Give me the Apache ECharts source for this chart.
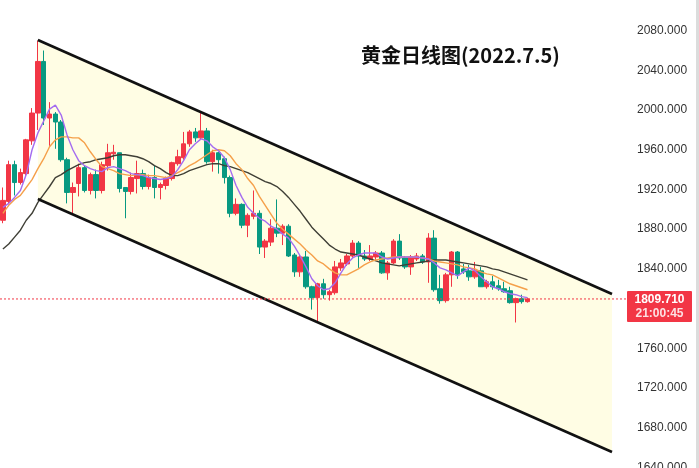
<!DOCTYPE html>
<html><head><meta charset="utf-8">
<script src="https://cdn.jsdelivr.net/npm/echarts@6/dist/echarts.min.js"></script>
<style>html,body{margin:0;padding:0;background:#fff}#c{width:699px;height:468px}</style>
</head><body><div id="c"></div>
<script>
const titleText = '黄金日线图(2022.7.5)';
const slotCount = 105; // 91 daily candles + empty space to the right
const opens  = [1889,1908,1945,1927,1936,1969,1997,2049,1992,1996,1988,1950,1917,1926,1942,1919,1935,1919,1944,1956,1957,1922,1918,1931,1936,1923,1932,1922,1924,1931,1946,1952,1966,1978,1972,1979,1948,1957,1951,1932,1896,1905,1884,1893,1896,1862,1867,1881,1876,1883,1854,1837,1852,1822,1811,1825,1814,1816,1841,1845,1853,1866,1853,1850,1852,1856,1836,1846,1868,1851,1842,1850,1853,1847,1871,1820,1808,1834,1857,1840,1838,1832,1838,1822,1827,1823,1820,1818,1806,1810,1807];
const closes = [1909,1945,1927,1937,1970,1997,2049,1992,1996,1988,1950,1917,1922,1942,1919,1935,1919,1945,1957,1957.5,1921,1918,1932,1936,1923,1932,1922,1925,1931,1947,1953,1966,1978,1972,1979,1948,1957,1950,1932,1896,1905,1884,1894,1896,1862,1868,1881,1876,1883,1853,1837,1852,1822,1811,1825,1814,1817,1842,1846,1853,1866,1853,1850,1853,1856,1836,1846,1868,1851,1842,1852,1853,1847,1871,1819,1808,1834,1857,1834,1837,1832,1838,1822,1827,1822,1820,1817,1806,1810,1807,1809.71];
const lows   = [1886,1905,1914,1925,1933,1965,1980,1985,1964,1961,1948,1906,1896,1913,1917,1915,1911,1916,1939,1950,1917,1891,1915,1916,1920,1920,1911,1910,1920,1929,1944,1950,1963,1968,1970,1946,1938,1936,1926,1892,1894,1881,1872,1890,1855,1851,1863,1872,1864,1852,1832,1832,1820,1799,1787,1810,1808,1814,1838,1843,1851,1841,1848,1848,1849,1835,1829,1845,1849,1840,1834,1848,1845,1826,1817,1805,1806,1822,1830,1835,1828,1830,1822,1820,1819,1818,1816,1805,1786,1805,1806];
const highs  = [1922,1949,1949,1941,1971,2002,2070,2060,2008,1998,1990,1952,1927,1946,1944,1937,1940,1948,1966,1965,1957,1922,1937,1949,1940,1935,1944,1927,1933,1948,1960,1978,1980,1982,1998,1982,1960,1958,1953,1934,1911,1906,1896,1919,1899,1870,1890,1910,1885,1885,1856,1854,1858,1823,1826,1830,1819,1848,1850,1855,1869,1868,1859,1864,1858,1858,1848,1870,1875,1853,1854,1856,1855,1876,1879,1834,1836,1858,1858,1845,1844,1847,1842,1829,1833,1829,1827,1822,1811,1814,1811];
const maFast = [1902,1906,1912,1919,1935,1960,1977,1989,2001,2005,1995,1975,1960,1949,1944,1941,1939,1938,1942,1943,1941,1939,1936,1935,1934,1932,1931,1930,1931,1933,1940,1949,1960,1966,1971,1969,1963,1959,1952,1940,1924,1912,1902,1896,1891,1888,1883,1880,1875,1871,1863,1853,1842,1830,1823,1819,1820,1826,1836,1845,1851,1854,1856,1856,1856,1852,1850,1851,1852,1852,1852,1852,1851,1850,1846,1841,1839,1836,1833,1837,1841,1838,1832,1827,1822,1820,1817,1815,1814,1812,1811];
const maMid  = [1896,1904,1910,1914,1922,1930,1941,1951,1963,1970,1973,1973,1972,1972,1967,1958,1950,1943,1941,1939,1936,1935,1934,1935,1935,1934,1934,1933,1932,1934,1937,1940,1944,1947,1951,1955,1959,1960,1959,1954,1946,1940,1931,1924,1913,1904,1895,1886,1880,1875,1870,1865,1859,1854,1848,1845,1840,1836,1834,1834,1837,1840,1844,1847,1849,1850,1851,1852,1852,1852,1852,1852,1851,1850,1848,1847,1846,1845,1844,1842,1841,1840,1837,1835,1834,1831,1828,1825,1823,1821,1819];
const maSlow = [1860,1865,1872,1879,1889,1896,1907,1915,1923,1932,1935,1939,1942,1945,1947,1948,1950,1951,1952,1954,1955,1955,1954,1953,1951,1948,1944,1941,1937,1934,1934,1936,1939,1941,1943,1945,1946,1946,1944,1943,1941,1939,1937,1934,1931,1928,1926,1923,1918,1912,1905,1898,1890,1882,1876,1870,1864,1860,1857,1856,1855,1854,1852,1850,1848,1846,1845,1844,1843,1844,1845,1846,1847,1848,1849,1849,1849,1848,1847,1846,1845,1844,1843,1842,1840,1839,1837,1835,1833,1831,1829];
// parallel channel: [slot index, price]
const channelUpper = [[6, 2070.6], [104.5, 1814.7]];
const channelLower = [[6, 1910.4], [104.5, 1655.5]];
const priceTicks = [1640,1680,1720,1760,1840,1880,1920,1960,2000,2040,2080];
const lastPrice = 1809.71;
const lastTime = '21:00:45';

const UP = '#F23645', DOWN = '#089981';
const categories = Array.from({length: slotCount}, (_, i) => String(i + 1));
const candleData = opens.map((o, i) => [o, closes[i], lows[i], highs[i]]);

const chart = echarts.init(document.getElementById('c'), null, {renderer: 'canvas'});
chart.setOption({
  animation: false,
  backgroundColor: '#ffffff',
  title: {
    text: titleText, left: 361, top: 45, padding: 0,
    textStyle: {fontSize: 20, fontWeight: 'bold', fontFamily: 'Noto Sans CJK SC', color: '#111'}
  },
  grid: {left: 0, right: 87, top: 0, bottom: 0, containLabel: false, outerBoundsMode: 'none'},
  xAxis: [
    {type: 'category', data: categories, boundaryGap: true, show: false},
    {type: 'value', min: -0.5, max: slotCount - 0.5, show: false}
  ],
  yAxis: {
    type: 'value', position: 'right', min: 1639.4, max: 2110.9, scale: true,
    splitLine: {show: false}, axisLine: {show: false}, axisTick: {show: false},
    axisLabel: {
      customValues: priceTicks, margin: 25, color: '#333',
      fontSize: 12, fontFamily: 'Liberation Sans, Arial, sans-serif',
      formatter: v => v.toFixed(3)
    }
  },
  series: [
    {
      type: 'custom', xAxisIndex: 1, z: 1, silent: true,
      data: [[channelUpper[0][0], channelUpper[0][1]]],
      renderItem: (params, api) => {
        const pts = [
          api.coord(channelUpper[0]), api.coord(channelUpper[1]),
          api.coord(channelLower[1]), api.coord(channelLower[0])
        ];
        return {type: 'polygon', shape: {points: pts}, style: {fill: '#FFFDE4'}};
      }
    },
    {
      type: 'candlestick', data: candleData, barWidth: 5, z: 3,
      itemStyle: {color: UP, color0: DOWN, borderColor: UP, borderColor0: DOWN, borderWidth: 1}
    },
    {type: 'line', data: maSlow, symbol: 'none', z: 4, lineStyle: {color: '#3f3f36', width: 1.4}},
    {type: 'line', data: maMid, symbol: 'none', z: 4, lineStyle: {color: '#F5A04A', width: 1.4}},
    {type: 'line', data: maFast, symbol: 'none', z: 4, lineStyle: {color: '#A46CF0', width: 1.4}},
    {type: 'line', xAxisIndex: 1, data: channelUpper, symbol: 'none', z: 5, lineStyle: {color: '#111', width: 2.6}},
    {type: 'line', xAxisIndex: 1, data: channelLower, symbol: 'none', z: 5, lineStyle: {color: '#111', width: 2.6}}
  ]
});

const py = chart.convertToPixel({yAxisIndex: 0}, lastPrice);
chart.setOption({
  graphic: [
    {type: 'rect', shape: {x: 696, y: 0, width: 3, height: 468}, style: {fill: '#dcdcdc'}, z: 10},
    {type: 'line', shape: {x1: 0, y1: py, x2: 627, y2: py}, style: {stroke: UP, lineWidth: 1, lineDash: [2, 2]}, z: 10},
    {type: 'rect', shape: {x: 627, y: py - 8, width: 65, height: 31, r: 1}, style: {fill: UP}, z: 11},
    {type: 'text', x: 659.5, y: py + 1, z: 12, style: {text: lastPrice.toFixed(3), fill: '#fff', font: 'bold 12px Liberation Sans, Arial, sans-serif', align: 'center', verticalAlign: 'middle'}},
    {type: 'text', x: 659.5, y: py + 14.5, z: 12, style: {text: lastTime, fill: 'rgba(255,255,255,0.85)', font: 'bold 12px Liberation Sans, Arial, sans-serif', align: 'center', verticalAlign: 'middle'}}
  ]
});
</script></body></html>
